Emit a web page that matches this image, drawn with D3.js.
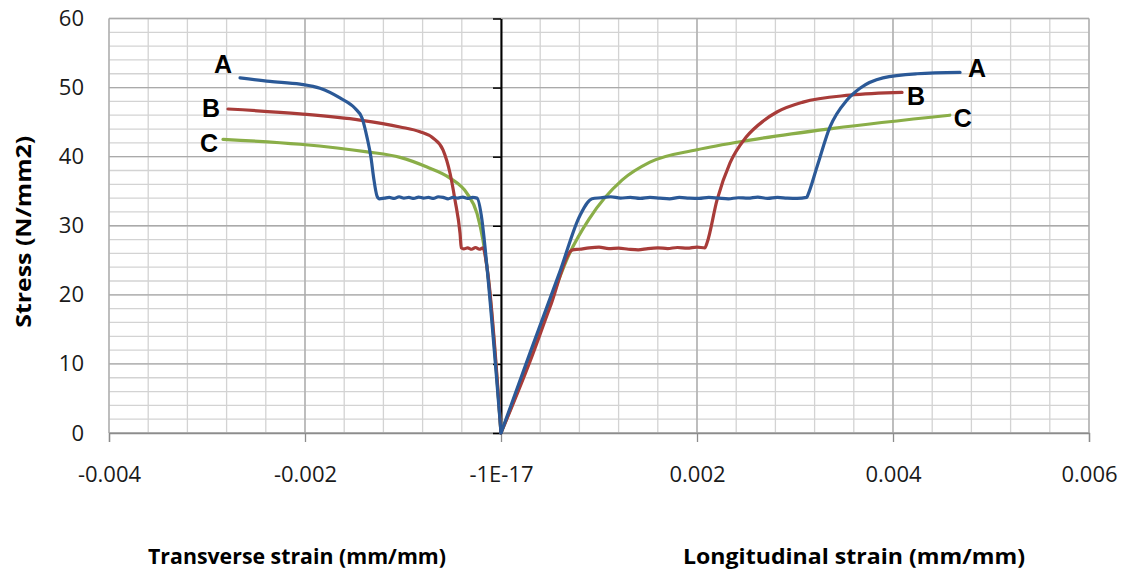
<!DOCTYPE html>
<html>
<head>
<meta charset="utf-8">
<script src="https://cdn.jsdelivr.net/npm/d3@7/dist/d3.min.js"></script>
<style>
  body { margin: 0; background: #fff; }
  svg { display: block; }
</style>
</head>
<body>
<svg id="chart"></svg>
<script>
// stress vs strain, specimens A, B, C
// transverse strain is negative (left), longitudinal positive (right)

var specimens = ["A", "B", "C"];
var colors = ["#2b5997", "#a83c39", "#8aae48"];

var xTicks = [-0.004, -0.002, 0, 0.002, 0.004, 0.006];
var xTickLabels = ["-0.004", "-0.002", "-1E-17", "0.002", "0.004", "0.006"];
var yTicks = [0, 10, 20, 30, 40, 50, 60];

// [strain, stress], from origin outwards
var transA = [[0, 0], [-0.000143, 24.0], [-0.000163, 26.9], [-0.000194, 30.8], [-0.000245, 34.0],
    [-0.00029, 34.1], [-0.00034, 33.95], [-0.00039, 34.15], [-0.00044, 34.0], [-0.00049, 34.1],
    [-0.00054, 33.9], [-0.00059, 34.1], [-0.00064, 34.2], [-0.00069, 33.95], [-0.00074, 34.1],
    [-0.00079, 34.0], [-0.00084, 34.15], [-0.00089, 33.95], [-0.00094, 34.1], [-0.00099, 34.0],
    [-0.00104, 34.2], [-0.00109, 33.95], [-0.00114, 34.1], [-0.00119, 34.0], [-0.00124, 33.9],
    [-0.001265, 34.3], [-0.0013, 37.0], [-0.001327, 39.9], [-0.001367, 42.8],
    [-0.001418, 45.6], [-0.00149, 47.0], [-0.001643, 48.5], [-0.001847, 49.9], [-0.002051, 50.5],
    [-0.002357, 50.9], [-0.002663, 51.4]];
var transB = [[0, 0], [-0.000143, 24.0], [-0.000184, 26.8], [-0.00022, 26.6], [-0.00026, 26.85],
    [-0.0003, 26.6], [-0.00034, 26.8], [-0.00038, 26.65], [-0.000405, 26.8], [-0.000418, 28.9],
    [-0.000469, 33.7], [-0.00052, 37.6], [-0.000592, 41.0], [-0.000694, 42.7], [-0.000827, 43.6],
    [-0.00103, 44.3], [-0.001439, 45.3], [-0.002051, 46.2], [-0.002786, 46.9]];
var transC = [[0, 0], [-0.000143, 24.0], [-0.000184, 27.9], [-0.000245, 31.8], [-0.000347, 34.7],
    [-0.00052, 36.9], [-0.000755, 38.5], [-0.00103, 39.9], [-0.001367, 40.7], [-0.002051, 41.8],
    [-0.002837, 42.5]];

var longA = [[0, 0], [0.000296, 11.6], [0.000602, 23.4], [0.000806, 31.5], [0.000929, 33.9],
    [0.00102, 34.05], [0.00112, 34.2], [0.00122, 34.0], [0.00132, 34.1], [0.00142, 33.95],
    [0.00152, 34.1], [0.00162, 34.0], [0.00172, 33.9], [0.00182, 34.1], [0.00192, 34.0],
    [0.00202, 33.95], [0.00212, 34.1], [0.00222, 34.0], [0.00232, 33.9], [0.00242, 34.05],
    [0.00252, 34.0], [0.00262, 34.15], [0.00272, 33.95], [0.00282, 34.1], [0.00292, 34.0],
    [0.00302, 33.95], [0.00312, 34.1],
    [0.00313, 34.4], [0.003224, 38.5], [0.003357, 44.3], [0.003531, 48.2], [0.003663, 49.9],
    [0.003898, 51.4], [0.004245, 52.0], [0.004684, 52.2]];
var longB = [[0, 0], [0.0003, 10.5], [0.0005, 18.2], [0.00073, 26.5], [0.0008, 26.6],
    [0.0009, 26.8], [0.001, 26.9], [0.0011, 26.7], [0.0012, 26.75], [0.0013, 26.6],
    [0.0014, 26.5], [0.0015, 26.7], [0.0016, 26.8], [0.0017, 26.7], [0.0018, 26.85],
    [0.0019, 26.75], [0.002, 26.9], [0.00208, 26.8], [0.002102, 27.5],
    [0.002204, 33.7], [0.002337, 39.1], [0.0025, 42.8], [0.00268, 45.2], [0.00282, 46.5],
    [0.003082, 47.9], [0.003561, 48.9], [0.004092, 49.3]];
var longC = [[0, 0], [0.0003, 10.9], [0.0005, 18.8], [0.0007, 26.0], [0.0009, 31.0],
    [0.001235, 36.6], [0.00152, 39.2], [0.002, 41.0], [0.00254, 42.4], [0.00339, 44.1],
    [0.00458, 46.0]];

var transverse = [transA, transB, transC];
var longitudinal = [longA, longB, longC];

var w = 1127, h = 572;
var margin = { left: 109, right: 38, top: 18.5, bottom: 139 };

var svg = d3.select("#chart").attr("width", w).attr("height", h);

var x = d3.scaleLinear().domain([-0.004, 0.006]).range([margin.left, w - margin.right]);
var y = d3.scaleLinear().domain([0, 60]).range([h - margin.bottom, margin.top]);

var tickFont = "'Open Sans', sans-serif";

function drawGrid() {
    var minorX = d3.range(-0.004, 0.00601, 0.0004),
        minorY = d3.range(0, 60.01, 2);

    svg.append("g").selectAll("line").data(minorX).join("line")
        .attr("x1", d => x(d)).attr("x2", d => x(d))
        .attr("y1", y(0)).attr("y2", y(60))
        .attr("stroke", "#d3d3d3").attr("stroke-width", 1.3);
    svg.append("g").selectAll("line").data(minorY).join("line")
        .attr("x1", x(-0.004)).attr("x2", x(0.006))
        .attr("y1", d => y(d)).attr("y2", d => y(d))
        .attr("stroke", "#d3d3d3").attr("stroke-width", 1.3);

    svg.append("g").selectAll("line").data(xTicks).join("line")
        .attr("x1", d => x(d)).attr("x2", d => x(d))
        .attr("y1", y(0)).attr("y2", y(60))
        .attr("stroke", "#aaaaaa").attr("stroke-width", 1.3);
    svg.append("g").selectAll("line").data(yTicks).join("line")
        .attr("x1", x(-0.004)).attr("x2", x(0.006))
        .attr("y1", d => y(d)).attr("y2", d => y(d))
        .attr("stroke", "#aaaaaa").attr("stroke-width", 1.3);
}

function drawAxes() {
    // horizontal axis at stress 0
    var xAxis = svg.append("g")
        .attr("transform", "translate(0," + y(0) + ")")
        .call(d3.axisBottom(x).tickValues(xTicks)
            .tickFormat((d, i) => xTickLabels[i])
            .tickSize(9).tickPadding(24));
    xAxis.select(".domain").attr("stroke", "#8c8c8c").attr("stroke-width", 1.3);
    xAxis.selectAll(".tick line").attr("stroke", "#8c8c8c").attr("stroke-width", 1.3);
    xAxis.selectAll("text")
        .attr("font-family", tickFont).attr("font-size", "22px").attr("fill", "#1a1a1a");

    // vertical axis at strain 0
    var yAxis = svg.append("g")
        .attr("transform", "translate(" + x(0) + ",0)")
        .call(d3.axisLeft(y).tickValues(yTicks).tickFormat("").tickSize(8).tickSizeOuter(0));
    yAxis.select(".domain").attr("stroke", "#000").attr("stroke-width", 2);
    yAxis.selectAll(".tick line").attr("stroke", "#000").attr("stroke-width", 1.5);

    // stress labels sit at the left edge of the plot
    var yLabels = svg.append("g")
        .attr("transform", "translate(" + x(-0.004) + ",0)")
        .call(d3.axisLeft(y).tickValues(yTicks).tickSize(0).tickPadding(25));
    yLabels.select(".domain").remove();
    yLabels.selectAll("text")
        .attr("font-family", tickFont).attr("font-size", "22px").attr("fill", "#1a1a1a");
}

function drawTitles() {
    svg.append("text")
        .attr("transform", "translate(31," + (y(30) + 6) + ") rotate(-90)")
        .attr("text-anchor", "middle")
        .attr("font-family", tickFont).attr("font-weight", "bold").attr("font-size", "21px")
        .attr("textLength", 192).attr("lengthAdjust", "spacingAndGlyphs")
        .text("Stress  (N/mm2)");

    svg.append("text")
        .attr("x", 297).attr("y", 564)
        .attr("text-anchor", "middle")
        .attr("font-family", tickFont).attr("font-weight", "bold").attr("font-size", "21px")
        .attr("textLength", 298).attr("lengthAdjust", "spacingAndGlyphs")
        .text("Transverse strain (mm/mm)");

    svg.append("text")
        .attr("x", 854).attr("y", 564)
        .attr("text-anchor", "middle")
        .attr("font-family", tickFont).attr("font-weight", "bold").attr("font-size", "21px")
        .attr("textLength", 342).attr("lengthAdjust", "spacingAndGlyphs")
        .text("Longitudinal strain (mm/mm)");
}

function drawSeries() {
    var line = d3.line()
        .x(d => x(d[0]))
        .y(d => y(d[1]))
        .curve(d3.curveMonotoneX);

    var g = svg.append("g").attr("fill", "none")
        .attr("stroke-width", 3.2).attr("stroke-linecap", "round").attr("stroke-linejoin", "round");

    // draw C first so A sits on top like the original
    [2, 1, 0].forEach(function(i) {
        g.append("path").attr("d", line(transverse[i])).attr("stroke", colors[i]);
        g.append("path").attr("d", line(longitudinal[i])).attr("stroke", colors[i]);
    });
}

function drawLabels() {
    // offsets of the letter from the free end of each curve, in px
    var leftOffset = [[-8, -5], [-8, 8], [-5, 13]],
        rightOffset = [[8, 5], [5, 13], [4, 12]];

    specimens.forEach(function(name, i) {
        var tEnd = transverse[i][transverse[i].length - 1],
            lEnd = longitudinal[i][longitudinal[i].length - 1];

        svg.append("text")
            .attr("x", x(tEnd[0]) + leftOffset[i][0])
            .attr("y", y(tEnd[1]) + leftOffset[i][1])
            .attr("text-anchor", "end")
            .attr("font-family", "'Liberation Sans', Arial, sans-serif")
            .attr("font-weight", "bold").attr("font-size", "25px")
            .text(name);

        svg.append("text")
            .attr("x", x(lEnd[0]) + rightOffset[i][0])
            .attr("y", y(lEnd[1]) + rightOffset[i][1])
            .attr("text-anchor", "start")
            .attr("font-family", "'Liberation Sans', Arial, sans-serif")
            .attr("font-weight", "bold").attr("font-size", "25px")
            .text(name);
    });
}

drawGrid();
drawAxes();
drawSeries();
drawLabels();
drawTitles();
</script>
</body>
</html>
